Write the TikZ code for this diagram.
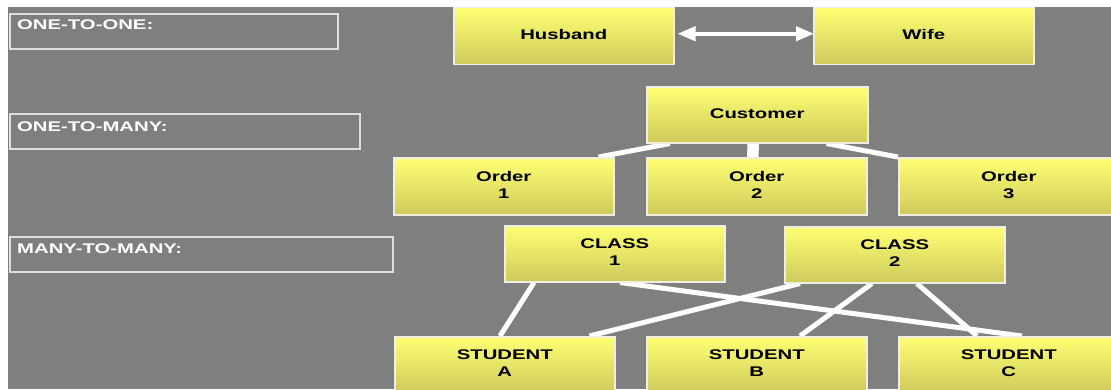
\documentclass[tikz,border=0pt]{standalone}
\usepackage{fontspec}
\setmainfont{Liberation Sans}
\usepackage{graphicx}
\usetikzlibrary{arrows.meta}

\definecolor{slate}{RGB}{127,127,127}
\definecolor{yeltop}{RGB}{255,255,115}
\definecolor{yelbot}{RGB}{206,202,92}
\definecolor{rim}{RGB}{238,238,226}
\definecolor{framecol}{RGB}{222,222,222}

% wide bold lettering, one or more centred lines
\newcommand\widetxt[1]{\scalebox{1.45}[1]{\begin{tabular}{@{}c@{}}#1\end{tabular}}}

\pgfdeclarelayer{backdrop}
\pgfdeclarelayer{lines}
\pgfsetlayers{backdrop,lines,main}

\tikzset{
  ybox/.style={rectangle, draw=rim, line width=1.5pt, top color=yeltop, bottom color=yelbot,
    minimum width=220pt, minimum height=56pt, inner sep=0pt, anchor=north west,
    font=\bfseries\fontsize{14}{17}\selectfont, text=black},
  lframe/.style={rectangle, draw=framecol, line width=2pt, inner sep=0pt, anchor=north west,
    minimum height=35pt},
  ltext/.style={anchor=base west, inner sep=0pt, text=white,
    font=\bfseries\fontsize{14}{17}\selectfont},
  conn/.style={draw=white, line width=5pt},
  stub/.style={draw=white, line width=11.5pt},
  dblarrow/.style={draw=white, line width=4pt,
    {Triangle[width=14pt,length=18pt]}-{Triangle[width=14pt,length=18pt]}}
}

\begin{document}
\begin{tikzpicture}[x=1pt,y=-1pt]
\useasboundingbox (0,0) rectangle (1111,389);
\begin{pgfonlayer}{backdrop}
  \fill[white] (0,0) rectangle (1111,389);
  \fill[slate] (8,7) rectangle (1111,389);
\end{pgfonlayer}

% category labels
\node[lframe, minimum width=328pt] (f1) at (9,13) {};
\node[ltext] (l1) at (17,29.5) {\scalebox{1.45}[1]{ONE-TO-ONE:}};
\node[lframe, minimum width=350pt] (f2) at (9,113) {};
\node[ltext] (l2) at (17,131) {\scalebox{1.45}[1]{ONE-TO-MANY:}};
\node[lframe, minimum width=383pt] (f3) at (9,236) {};
\node[ltext] (l3) at (17,253) {\scalebox{1.45}[1]{MANY-TO-MANY:}};

% one-to-one
\node[ybox, minimum height=57pt] (hus) at (453,6.5) {\widetxt{Husband}};
\node[ybox, minimum height=57pt] (wife) at (813,6.5) {\widetxt{Wife}};

% one-to-many
\node[ybox, minimum width=221pt] (cust) at (646,86) {\widetxt{Customer}};
\node[ybox, minimum height=57pt] (o1) at (393,157) {\widetxt{Order\\1}};
\node[ybox, minimum height=57pt] (o2) at (646,157) {\widetxt{Order\\2}};
\node[ybox, minimum height=57pt] (o3) at (898,157) {\widetxt{Order\\3}};

% many-to-many
\node[ybox] (c1) at (504,225) {\widetxt{CLASS\\1}};
\node[ybox] (c2) at (784,226) {\widetxt{CLASS\\2}};
\node[ybox] (sa) at (394,336) {\widetxt{STUDENT\\A}};
\node[ybox] (sb) at (646,336) {\widetxt{STUDENT\\B}};
\node[ybox] (sc) at (898,336) {\widetxt{STUDENT\\C}};

% white strip along the top edge
\fill[white] (0,0) rectangle (1111,7);

\draw[dblarrow] ([xshift=3pt,yshift=2pt]hus.east) -- ([xshift=1pt,yshift=2pt]wife.west);

\begin{pgfonlayer}{lines}
  \draw[conn] ([xshift=24pt]cust.south west) -- ([xshift=-16pt]o1.north east);
  \draw[conn] ([xshift=-42pt]cust.south east) -- (o3.north west);
  \draw[stub] ([xshift=-4pt]cust.south) -- ([xshift=-4pt]o2.north);
  \draw[conn] ([xshift=30pt]c1.south west) -- ([xshift=106pt]sa.north west);
  \draw[conn] ([xshift=116pt]c1.south west) -- ([xshift=124pt]sc.north west);
  \draw[conn] ([xshift=16pt]c2.south west) -- ([xshift=-26pt]sa.north east);
  \draw[conn] ([xshift=88pt]c2.south west) -- ([xshift=154pt]sb.north west);
  \draw[conn] ([xshift=133pt]c2.south west) -- ([xshift=79pt]sc.north west);
\end{pgfonlayer}
\end{tikzpicture}
\end{document}
